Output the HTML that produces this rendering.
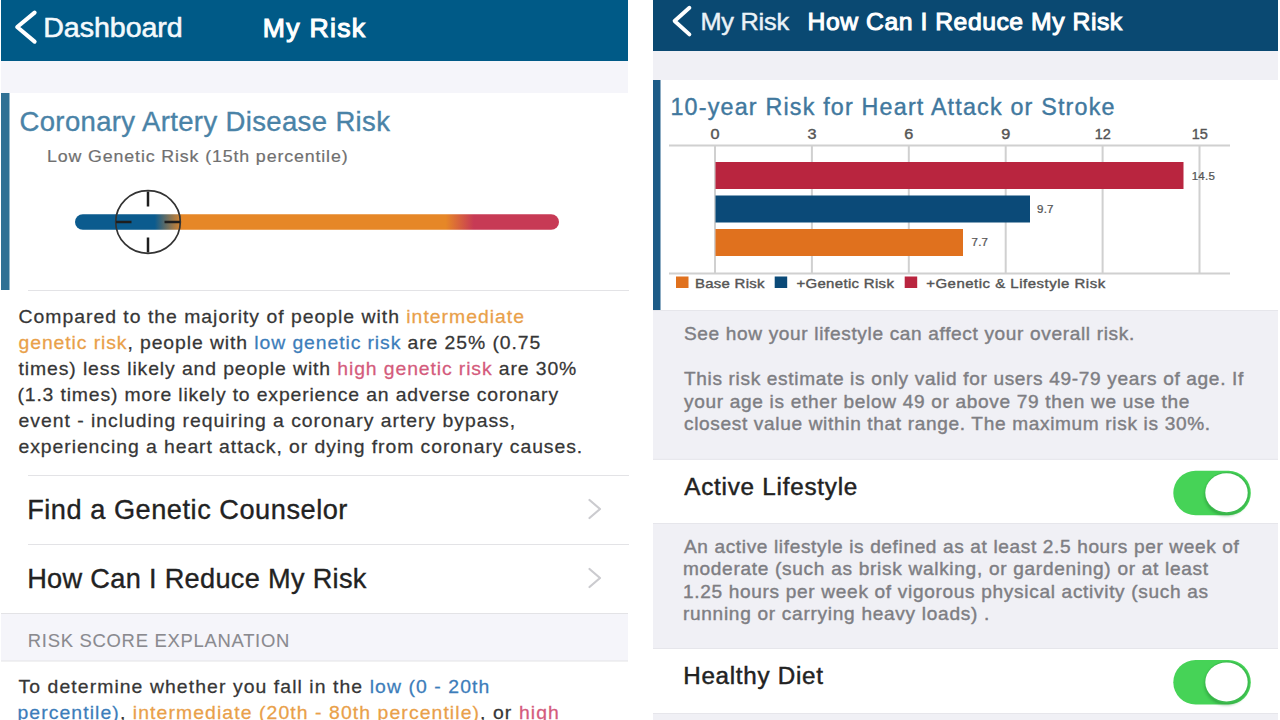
<!DOCTYPE html>
<html><head><meta charset="utf-8"><style>
html,body{margin:0;padding:0;background:#fff;width:1280px;height:720px;overflow:hidden}
svg{position:absolute;left:0;top:0;display:block}
text{font-family:"Liberation Sans",sans-serif;white-space:pre}

</style></head><body>
<svg width="1280" height="720" viewBox="0 0 1280 720">
<rect x="1" y="0" width="627" height="61" fill="#005a87" />
<rect x="1" y="61" width="627" height="32" fill="#f5f5fa" />
<rect x="1" y="93" width="8.5" height="197" fill="#2f7094" />
<rect x="28" y="290" width="601" height="1" fill="#e3e3e6" />
<rect x="28" y="475" width="601" height="1" fill="#e3e3e6" />
<rect x="28" y="544" width="601" height="1" fill="#e3e3e6" />
<rect x="1" y="613.5" width="627" height="47.5" fill="#f5f5fa" />
<rect x="1" y="613" width="627" height="1" fill="#e3e3e6" />
<rect x="1" y="660.5" width="627" height="1" fill="#e3e3e6" />
<polyline points="34.6,12.6 17.2,27 34.6,41.6" fill="none" stroke="#fff" stroke-width="4.1" stroke-linecap="round" stroke-linejoin="round"/>
<defs><linearGradient id="rg" x1="75" y1="0" x2="559" y2="0" gradientUnits="userSpaceOnUse">
<stop offset="0.165" stop-color="#0b5b8e"/><stop offset="0.222" stop-color="#e68727"/>
<stop offset="0.766" stop-color="#e68727"/><stop offset="0.824" stop-color="#c73a55"/>
</linearGradient></defs>
<rect x="75" y="214.2" width="484" height="15.6" rx="7.8" fill="url(#rg)"/>
<ellipse cx="148" cy="222" rx="32.3" ry="31.3" fill="none" stroke="#333" stroke-width="1.7"/>
<g stroke="#1e1e1e" stroke-width="2.5"><line x1="148" y1="191.5" x2="148" y2="206.5"/><line x1="148" y1="237.5" x2="148" y2="252.5"/><line x1="116" y1="222" x2="131.5" y2="222"/><line x1="164.5" y1="222" x2="180" y2="222"/></g>
<polyline points="589.5,500 600,509 589.5,518" fill="none" stroke="#cbcbcf" stroke-width="2.2" stroke-linecap="round" stroke-linejoin="round"/>
<polyline points="589.5,569 600,578 589.5,587" fill="none" stroke="#cbcbcf" stroke-width="2.2" stroke-linecap="round" stroke-linejoin="round"/>
<rect x="653" y="0" width="625" height="51" fill="#0a4972" />
<rect x="653" y="51" width="625" height="29" fill="#f0f0f5" />
<rect x="653" y="80" width="7.5" height="230" fill="#1d5b87" />
<polyline points="689.4,7.8 674.6,21 689.4,34.4" fill="none" stroke="#fff" stroke-width="3.9" stroke-linecap="round" stroke-linejoin="round"/>
<rect x="714.00" y="145" width="2" height="128" fill="#d0d0d0"/>
<rect x="810.90" y="145" width="2" height="128" fill="#d0d0d0"/>
<rect x="907.80" y="145" width="2" height="128" fill="#d0d0d0"/>
<rect x="1004.70" y="145" width="2" height="128" fill="#d0d0d0"/>
<rect x="1101.60" y="145" width="2" height="128" fill="#d0d0d0"/>
<rect x="1198.50" y="145" width="2" height="128" fill="#d0d0d0"/>
<rect x="669" y="144.5" width="561" height="2" fill="#d0d0d0" />
<rect x="669" y="272.5" width="561" height="2" fill="#d0d0d0" />
<rect x="715.5" y="162" width="468.0" height="27" fill="#b9253f" />
<rect x="715.5" y="195.5" width="314.5" height="27" fill="#0b4a78" />
<rect x="715.5" y="229" width="247.5" height="27" fill="#e0711e" />
<text transform="translate(715.0,139) scale(1.12,1)" font-size="14.5" fill="#555" stroke="#555" stroke-width="0.4" text-anchor="middle">0</text>
<text transform="translate(811.9,139) scale(1.12,1)" font-size="14.5" fill="#555" stroke="#555" stroke-width="0.4" text-anchor="middle">3</text>
<text transform="translate(908.8,139) scale(1.12,1)" font-size="14.5" fill="#555" stroke="#555" stroke-width="0.4" text-anchor="middle">6</text>
<text transform="translate(1005.7,139) scale(1.12,1)" font-size="14.5" fill="#555" stroke="#555" stroke-width="0.4" text-anchor="middle">9</text>
<text transform="translate(1102.7,139) scale(1.0,1)" font-size="14.5" fill="#555" stroke="#555" stroke-width="0.4" text-anchor="middle">12</text>
<text transform="translate(1199.8,139) scale(1.0,1)" font-size="14.5" fill="#555" stroke="#555" stroke-width="0.4" text-anchor="middle">15</text>
<text transform="translate(1191.7,180) scale(1.12,1)" font-size="10.3" fill="#555" stroke="#555" stroke-width="0.25" letter-spacing="0.2">14.5</text>
<text transform="translate(1037,213.3) scale(1.12,1)" font-size="10.3" fill="#555" stroke="#555" stroke-width="0.25" letter-spacing="0.2">9.7</text>
<text transform="translate(971.5,246.3) scale(1.12,1)" font-size="10.3" fill="#555" stroke="#555" stroke-width="0.25" letter-spacing="0.2">7.7</text>
<rect x="676" y="276.5" width="12.5" height="11.5" fill="#e0711e" />
<rect x="774.7" y="276.5" width="12.5" height="11.5" fill="#0b4a78" />
<rect x="904.7" y="276.5" width="12.5" height="11.5" fill="#b9253f" />
<rect x="653" y="310" width="625" height="150" fill="#f0f0f5" />
<rect x="653" y="523" width="625" height="126" fill="#f0f0f5" />
<rect x="653" y="713" width="625" height="7" fill="#f0f0f5" />
<rect x="653" y="310" width="625" height="1" fill="#e6e6eb" />
<rect x="653" y="458.8" width="625" height="1" fill="#e6e6eb" />
<rect x="653" y="523" width="625" height="1" fill="#e6e6eb" />
<rect x="653" y="648" width="625" height="1" fill="#e6e6eb" />
<rect x="653" y="713" width="625" height="1" fill="#e6e6eb" />
<defs><filter id="ks" x="-30%" y="-30%" width="160%" height="160%"><feGaussianBlur stdDeviation="1.6"/></filter></defs>
<rect x="1173.3" y="470.75" width="77.5" height="44.5" rx="22.25" fill="#46d357"/>
<ellipse cx="1226" cy="495.25" rx="21.5" ry="20.5" fill="#1f7a2c" opacity="0.45" filter="url(#ks)"/>
<ellipse cx="1227.2" cy="493.0" rx="22.3" ry="21" fill="#3cbb4e"/>
<ellipse cx="1226.5" cy="492.75" rx="21.2" ry="19.6" fill="#ffffff"/>
<rect x="1173.3" y="660" width="77.5" height="44.5" rx="22.25" fill="#46d357"/>
<ellipse cx="1226" cy="684.5" rx="21.5" ry="20.5" fill="#1f7a2c" opacity="0.45" filter="url(#ks)"/>
<ellipse cx="1227.2" cy="682.25" rx="22.3" ry="21" fill="#3cbb4e"/>
<ellipse cx="1226.5" cy="682" rx="21.2" ry="19.6" fill="#ffffff"/>
<text transform="translate(43.16,36.6) scale(1.06,1)" font-size="27" letter-spacing="-0.043" fill="#f4f9fc" stroke="#f4f9fc" stroke-width="0.55">Dashboard</text>
<text transform="translate(262.75,36.5) scale(1.0,1)" font-size="26.6" letter-spacing="1.292" fill="#ffffff" stroke="#ffffff" stroke-width="1.1">My Risk</text>
<text transform="translate(19.48,131) scale(1.0,1)" font-size="27.5" letter-spacing="0.363" fill="#4a83a7" stroke="#4a83a7" stroke-width="0.35">Coronary Artery Disease Risk</text>
<text transform="translate(47.04,162.25) scale(1.06,1)" font-size="16.8" letter-spacing="0.818" fill="#707070" stroke="#707070" stroke-width="0.2">Low Genetic Risk (15th percentile)</text>
<text transform="translate(18.52,323.3) scale(1.06,1)" font-size="18.3" letter-spacing="0.938" fill="#363636" stroke="#363636" stroke-width="0.25">Compared to the majority of people with <tspan fill="#e9a049" stroke="#e9a049">intermediate</tspan></text>
<text transform="translate(18.52,349.3) scale(1.06,1)" font-size="18.3" letter-spacing="0.853" fill="#363636" stroke="#363636" stroke-width="0.25"><tspan fill="#e9a049" stroke="#e9a049">genetic risk</tspan>, people with <tspan fill="#3c7dba" stroke="#3c7dba">low genetic risk</tspan> are 25% (0.75</text>
<text transform="translate(18.52,375.3) scale(1.06,1)" font-size="18.3" letter-spacing="0.839" fill="#363636" stroke="#363636" stroke-width="0.25">times) less likely and people with <tspan fill="#d45b7c" stroke="#d45b7c">high genetic risk</tspan> are 30%</text>
<text transform="translate(17.46,401.3) scale(1.06,1)" font-size="18.3" letter-spacing="0.795" fill="#363636" stroke="#363636" stroke-width="0.25">(1.3 times) more likely to experience an adverse coronary</text>
<text transform="translate(18.52,427.3) scale(1.06,1)" font-size="18.3" letter-spacing="0.917" fill="#363636" stroke="#363636" stroke-width="0.25">event - including requiring a coronary artery bypass,</text>
<text transform="translate(18.52,453.3) scale(1.06,1)" font-size="18.3" letter-spacing="0.879" fill="#363636" stroke="#363636" stroke-width="0.25">experiencing a heart attack, or dying from coronary causes.</text>
<text transform="translate(27.18,518.5) scale(1.0,1)" font-size="27.2" letter-spacing="0.518" fill="#222222" stroke="#222222" stroke-width="0.35">Find a Genetic Counselor</text>
<text transform="translate(27.18,587.5) scale(1.0,1)" font-size="27.2" letter-spacing="0.298" fill="#222222" stroke="#222222" stroke-width="0.35">How Can I Reduce My Risk</text>
<text transform="translate(27.82,647.3) scale(0.98,1)" font-size="18.8" letter-spacing="0.735" fill="#8a8a8f" stroke="#8a8a8f" stroke-width="0.1">RISK SCORE EXPLANATION</text>
<text transform="translate(18.52,692.6) scale(1.06,1)" font-size="18.3" letter-spacing="1.014" fill="#363636" stroke="#363636" stroke-width="0.25">To determine whether you fall in the <tspan fill="#3c7dba" stroke="#3c7dba">low (0 - 20th</tspan></text>
<text transform="translate(17.46,718.6) scale(1.06,1)" font-size="18.3" letter-spacing="1.023" fill="#363636" stroke="#363636" stroke-width="0.25"><tspan fill="#3c7dba" stroke="#3c7dba">percentile)</tspan>, <tspan fill="#e9a049" stroke="#e9a049">intermediate (20th - 80th percentile)</tspan>, or <tspan fill="#d45b7c" stroke="#d45b7c">high</tspan></text>
<text transform="translate(700.42,29.6) scale(1.06,1)" font-size="23.9" letter-spacing="-0.209" fill="#eaf2f7" stroke="#eaf2f7" stroke-width="0.45">My Risk</text>
<text transform="translate(807.57,29.6) scale(1.03,1)" font-size="24" letter-spacing="0.524" fill="#ffffff" stroke="#ffffff" stroke-width="1.0">How Can I Reduce My Risk</text>
<text transform="translate(670.45,115) scale(1.0,1)" font-size="23.3" letter-spacing="1.191" fill="#41789e" stroke="#41789e" stroke-width="0.4">10-year Risk for Heart Attack or Stroke</text>
<text transform="translate(683.95,339.5) scale(1.06,1)" font-size="18" letter-spacing="0.614" fill="#7e7e83" stroke="#7e7e83" stroke-width="0.4">See how your lifestyle can affect your overall risk.</text>
<text transform="translate(683.95,385) scale(1.06,1)" font-size="18" letter-spacing="0.624" fill="#7e7e83" stroke="#7e7e83" stroke-width="0.4">This risk estimate is only valid for users 49-79 years of age. If</text>
<text transform="translate(683.95,407.5) scale(1.06,1)" font-size="18" letter-spacing="0.640" fill="#7e7e83" stroke="#7e7e83" stroke-width="0.4">your age is ether below 49 or above 79 then we use the</text>
<text transform="translate(683.95,430) scale(1.06,1)" font-size="18" letter-spacing="0.623" fill="#7e7e83" stroke="#7e7e83" stroke-width="0.4">closest value within that range. The maximum risk is 30%.</text>
<text transform="translate(684.23,494.5) scale(1.03,1)" font-size="23.5" letter-spacing="0.757" fill="#222222" stroke="#222222" stroke-width="0.45">Active Lifestyle</text>
<text transform="translate(683.95,552.5) scale(1.06,1)" font-size="18" letter-spacing="0.597" fill="#7e7e83" stroke="#7e7e83" stroke-width="0.4">An active lifestyle is defined as at least 2.5 hours per week of</text>
<text transform="translate(682.89,575) scale(1.06,1)" font-size="18" letter-spacing="0.661" fill="#7e7e83" stroke="#7e7e83" stroke-width="0.4">moderate (such as brisk walking, or gardening) or at least</text>
<text transform="translate(682.89,597.5) scale(1.06,1)" font-size="18" letter-spacing="0.644" fill="#7e7e83" stroke="#7e7e83" stroke-width="0.4">1.25 hours per week of vigorous physical activity (such as</text>
<text transform="translate(682.89,620) scale(1.06,1)" font-size="18" letter-spacing="0.673" fill="#7e7e83" stroke="#7e7e83" stroke-width="0.4">running or carrying heavy loads) .</text>
<text transform="translate(683.20,683.75) scale(1.03,1)" font-size="23.5" letter-spacing="0.707" fill="#222222" stroke="#222222" stroke-width="0.45">Healthy Diet</text>
<text transform="translate(695.05,287.5) scale(1.15,1)" font-size="13" letter-spacing="0.237" fill="#555555" stroke="#555555" stroke-width="0.4">Base Risk</text>
<text transform="translate(796.45,287.5) scale(1.15,1)" font-size="13" letter-spacing="0.290" fill="#555555" stroke="#555555" stroke-width="0.4">+Genetic Risk</text>
<text transform="translate(926.20,287.5) scale(1.15,1)" font-size="13" letter-spacing="0.450" fill="#555555" stroke="#555555" stroke-width="0.4">+Genetic &amp; Lifestyle Risk</text>
</svg>
</body></html>
